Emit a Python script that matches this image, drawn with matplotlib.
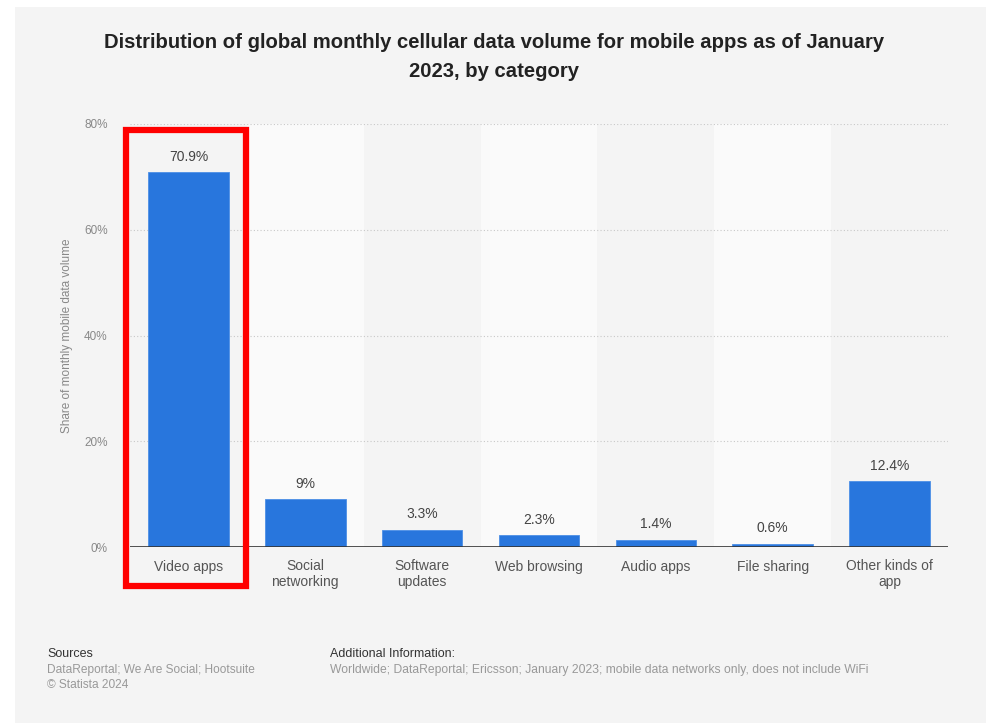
import matplotlib.pyplot as plt
from matplotlib.patches import Rectangle

# data
categories = ["Video apps", "Social\nnetworking", "Software\nupdates", "Web browsing",
              "Audio apps", "File sharing", "Other kinds of\napp"]
shares = [70.9, 9, 3.3, 2.3, 1.4, 0.6, 12.4]
value_labels = ["70.9%", "9%", "3.3%", "2.3%", "1.4%", "0.6%", "12.4%"]
y_ticks = [0, 20, 40, 60, 80]
y_tick_labels = ["0%", "20%", "40%", "60%", "80%"]

plt.rcParams["font.family"] = ["Liberation Sans", "DejaVu Sans"]

W, H = 988, 723
fig = plt.figure(figsize=(W / 100, H / 100), dpi=100)
fig.patch.set_facecolor("white")

# grey card behind everything
fig.add_artist(Rectangle((15 / W, 0), (986 - 15) / W, 1 - 7 / H,
                         transform=fig.transFigure, facecolor="#f4f4f4",
                         edgecolor="none", zorder=0))

ax = fig.add_axes([130 / W, 1 - 547 / H, (948 - 130) / W, (547 - 124) / H])
ax.set_facecolor("none")

x = list(range(len(categories)))
# alternating column bands
for i in x:
    shade = "#f4f4f4" if i % 2 == 0 else "#fafafa"
    ax.axvspan(i - 0.5, i + 0.5, color=shade, zorder=0, lw=0)

for t in y_ticks[1:]:
    ax.axhline(t, color="#c8c8c8", lw=0.8, ls=(0, (1, 2)), zorder=1)

ax.bar(x, shares, width=0.69, color="#2876dd", edgecolor="#4d8fe6", lw=0.6, zorder=2)
for xi, v, lab in zip(x, shares, value_labels):
    ax.annotate(lab, (xi, v), xytext=(0, 6), textcoords="offset points",
                ha="center", va="bottom", fontsize=10, color="#444444")

ax.axhline(0, color="#333333", lw=1.2, zorder=3)
ax.set_xlim(-0.5, len(categories) - 0.5)
ax.set_ylim(0, 80)
ax.set_yticks(y_ticks)
ax.set_yticklabels(y_tick_labels, fontsize=8.5, color="#888888")
ax.set_xticks(x)
ax.set_xticklabels(categories, fontsize=10, color="#555555", linespacing=1.15, va="top")
ax.tick_params(axis="both", length=0)
ax.tick_params(axis="y", pad=16)
ax.tick_params(axis="x", pad=9)
for s in ax.spines.values():
    s.set_visible(False)
ax.set_ylabel("Share of monthly mobile data volume", fontsize=8.5, color="#888888", labelpad=8)

# red highlight box around first column
fig.add_artist(Rectangle((126 / W, 1 - 586 / H), (246 - 126) / W, (586 - 130) / H,
                         transform=fig.transFigure, facecolor="none",
                         edgecolor="#ff0000", lw=4.5, zorder=10))

fig.text(0.5, 1 - 57 / H, "Distribution of global monthly cellular data volume for mobile apps as of January\n2023, by category",
         ha="center", va="center", fontsize=14.6, fontweight="bold", color="#222222", linespacing=1.65)

fig.text(47 / W, 1 - 654 / H, "Sources", fontsize=9, color="#333333", va="center")
fig.text(47 / W, 1 - 670 / H, "DataReportal; We Are Social; Hootsuite", fontsize=8.6, color="#999999", va="center")
fig.text(47 / W, 1 - 685 / H, "\u00a9 Statista 2024", fontsize=8.6, color="#999999", va="center")
fig.text(330 / W, 1 - 654 / H, "Additional Information:", fontsize=9, color="#333333", va="center")
fig.text(330 / W, 1 - 670 / H,
         "Worldwide; DataReportal; Ericsson; January 2023; mobile data networks only, does not include WiFi",
         fontsize=8.7, color="#999999", va="center")

fig.savefig("out.png", dpi=100, facecolor=fig.get_facecolor())
